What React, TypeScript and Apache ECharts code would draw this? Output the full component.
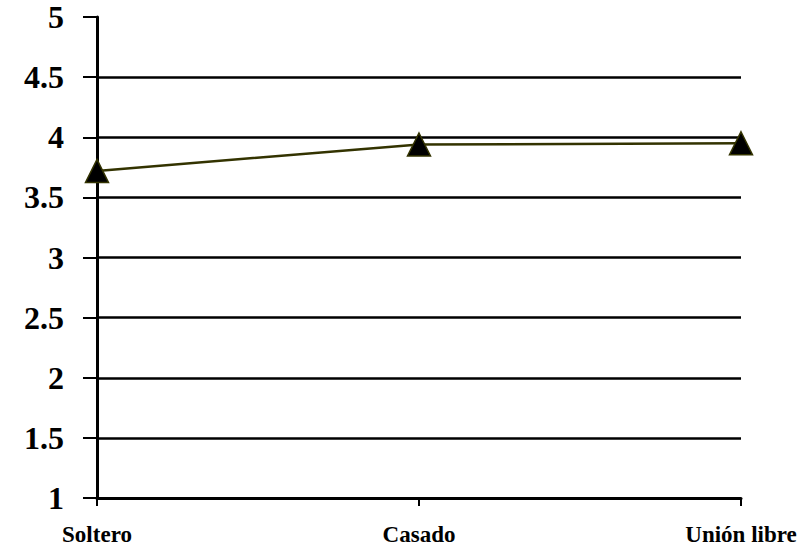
import React, { useEffect, useRef } from "react";
import * as echarts from "echarts";

// Average score by marital status
const categories = ["Soltero", "Casado", "Unión libre"];
const scores = [3.72, 3.94, 3.95];
const yTicks = { min: 1, max: 5, interval: 0.5 };

const FONT = "'Liberation Serif', 'Times New Roman', serif";

export default function App() {
  const ref = useRef<HTMLDivElement>(null);

  useEffect(() => {
    if (!ref.current) return;
    const chart = echarts.init(ref.current, undefined, { renderer: "svg" });
    chart.setOption({
      animation: false,
      backgroundColor: "#ffffff",
      grid: { left: 97, right: 68, top: 17, bottom: 50 },
      xAxis: {
        type: "category",
        data: categories,
        boundaryGap: false,
        axisLine: { lineStyle: { color: "#000", width: 3 } },
        axisTick: { show: true, length: 8, lineStyle: { color: "#000", width: 2 } },
        axisLabel: {
          margin: 25,
          color: "#000",
          fontFamily: FONT,
          fontWeight: "bold",
          fontSize: 23,
        },
        splitLine: { show: false },
      },
      yAxis: {
        type: "value",
        min: yTicks.min,
        max: yTicks.max,
        interval: yTicks.interval,
        axisLine: { show: true, lineStyle: { color: "#000", width: 3 } },
        axisTick: { show: true, length: 14, lineStyle: { color: "#000", width: 2 } },
        axisLabel: {
          margin: 33,
          color: "#000",
          fontFamily: FONT,
          fontWeight: "bold",
          fontSize: 32,
        },
        splitLine: {
          show: true,
          showMaxLine: false,
          lineStyle: { color: "#000", width: 2.5 },
        },
      },
      series: [
        {
          type: "line",
          data: scores,
          symbol: "triangle",
          symbolSize: 23,
          lineStyle: { color: "#333300", width: 2.5 },
          itemStyle: { color: "#000000", borderColor: "#333300", borderWidth: 1.5 },
        },
      ],
    });
    return () => chart.dispose();
  }, []);

  return (
    <div
      ref={ref}
      style={{ position: "fixed", left: 0, top: 0, width: 809, height: 548 }}
    />
  );
}
